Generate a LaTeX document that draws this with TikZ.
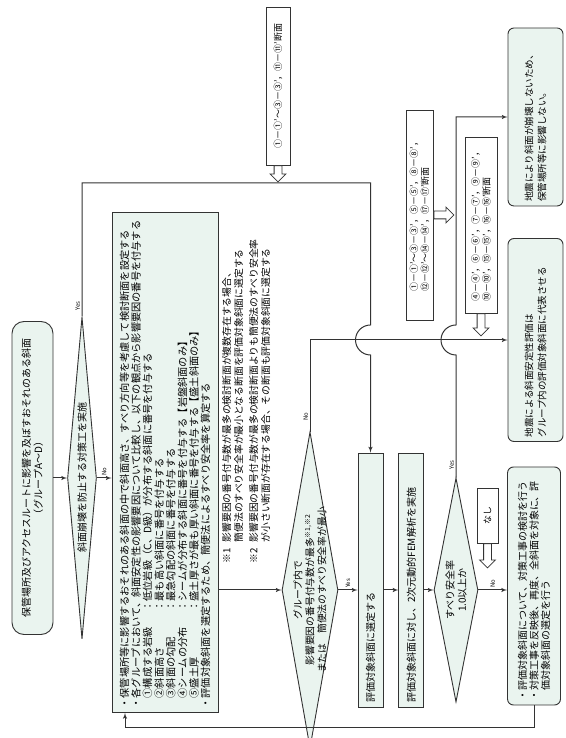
\documentclass[tikz,border=0pt]{standalone}
\usepackage{fontspec}
\setmainfont{Noto Sans CJK JP}
\usepackage{xcolor}
\usepackage{tikz}
\usetikzlibrary{shapes,arrows,positioning}

\definecolor{boxfill}{HTML}{EAF4EF}
\definecolor{linegray}{HTML}{333333}

\begin{document}
\begin{tikzpicture}[x=1pt, y=1pt, rotate=90, transform shape,
  every node/.style={font=\fontsize{10}{12}\selectfont},
  block/.style={rectangle, draw=linegray, fill=boxfill, line width=0.9pt, inner sep=4pt},
  rblock/.style={block, rounded corners=6pt},
  decision/.style={diamond, draw=linegray, fill=boxfill, line width=0.9pt, inner sep=0pt},
  memo/.style={rectangle, draw=linegray, fill=white, line width=0.9pt, inner sep=2pt, font=\fontsize{9}{11}\selectfont},
  harrow/.style={single arrow, draw=linegray, fill=white, line width=0.8pt, inner sep=3.5pt, single arrow head extend=4pt},
  tag/.style={font=\fontsize{6}{7}\selectfont, inner sep=1.5pt},
  line/.style={draw=linegray, line width=1pt, -latex'}]

  \useasboundingbox (0,0) rectangle (738,-565);

  % Nodes
  \node [rblock, rounded corners=12pt, minimum width=313pt, minimum height=41pt, align=center] (start) at (260,-32.5)
    {保管場所及びアクセスルートに影響を及ぼすおそれのある斜面\\（グループA～D）};
  \node [decision, minimum width=322pt, minimum height=29pt] (taisaku) at (260,-82) {};
  \node (taisakutext) at (taisaku) {斜面崩壊を防止する対策工を実施};

  \node [block, minimum height=106pt, text width=492pt, align=left, font=\fontsize{10.2}{11.6}\selectfont] (kentou) at (275.5,-165) {%
    ・保管場所等に影響するおそれのある斜面の中で斜面高さ、すべり方向等を考慮して検討断面を設定する\\
    ・各グループにおいて、斜面安定性の影響要因について比較し、以下の観点から影響要因の番号を付与する\\
    \hspace*{1em}\makebox[8.5em][l]{①構成する岩級}：低位岩級（C、D級）が分布する斜面に番号を付与する\\
    \hspace*{1em}\makebox[8.5em][l]{②斜面高さ}：最も高い斜面に番号を付与する\\
    \hspace*{1em}\makebox[8.5em][l]{③斜面の勾配}：最急勾配の斜面に番号を付与する\\
    \hspace*{1em}\makebox[8.5em][l]{④シームの分布}：シームが分布する斜面に番号を付与する【岩盤斜面のみ】\\
    \hspace*{1em}\makebox[8.5em][l]{⑤盛土厚}：盛土厚さが最も厚い斜面に番号を付与する【盛土斜面のみ】\\
    ・評価対象斜面を選定するため、簡便法によるすべり安全率を算定する};

  \node [anchor=north west, align=left, inner sep=0pt, font=\fontsize{9.8}{12}\selectfont] (chuki) at (174,-222) {%
    \makebox[2.2em][l]{※1}影響要因の番号付与数が最多の検討断面が複数存在する場合、\\
    \hspace*{2.2em}簡便法のすべり安全率が最小となる断面を評価対象斜面に選定する\\[3pt]
    \makebox[2.2em][l]{※2}影響要因の番号付与数が最多の検討断面よりも簡便法のすべり安全率\\
    \hspace*{2.2em}が小さい断面が存在する場合、その断面も評価対象斜面に選定する};

  \node [decision, minimum width=316pt, minimum height=56pt] (group) at (148,-310) {};
  \node [align=center, font=\fontsize{9.8}{12}\selectfont] (grouptext) at (group)
    {グループ内で\\影響要因の番号付与数が最多\textsuperscript{※1,※2}\\または　簡便法のすべり安全率が最小};

  \node [block, minimum height=25pt, text width=246pt, align=left] (sentei) at (158,-370.5) {評価対象斜面に選定する};
  \node [block, minimum height=25pt, text width=246pt, align=left, below=15pt of sentei] (fem) {評価対象斜面に対し、2次元動的FEM解析を実施};

  \node [decision, minimum width=224pt, minimum height=44pt] (anzen) at (148,-456) {};
  \node [align=center] (anzentext) at (anzen) {すべり安全率\\1.0以上か};

  \node [rblock, minimum height=55pt, text width=170pt, align=left, font=\fontsize{9.5}{13}\selectfont] (box1) at (621,-535.5)
    {地震により斜面が崩壊しないため、\\保管場所等に影響しない。};
  \node [rblock, minimum height=55pt, text width=195pt, align=left, font=\fontsize{9.5}{13}\selectfont] (box2) at (398,-535.5)
    {地震による斜面安定性評価は\\グループ内の評価対象斜面に代表させる};
  \node [rblock, minimum height=53pt, text width=230pt, align=left, font=\fontsize{10}{11.5}\selectfont] (box3) at (152,-534)
    {・評価対象斜面について、対策工事の検討を行う\\・対策工事を反映後、再度、全斜面を対象に、評\\\hspace*{1em}価対象斜面の選定を行う};

  \node [memo, minimum width=158pt, minimum height=24pt] (sec0) at (652,-278) {①－①’～③－③’，⑪－⑪’断面};
  \node [memo, minimum width=210pt, minimum height=27pt, align=left] (secA) at (523,-419.5)
    {①－①’～③－③’，⑤－⑤’，⑧－⑧’，\\⑫－⑫’～⑭－⑭’，⑰－⑰’断面};
  \node [memo, minimum width=176pt, minimum height=32pt, align=left] (secB) at (513,-481)
    {④－④’，⑥－⑥’，⑦－⑦’，⑨－⑨’，\\⑩－⑩’，⑮－⑮’，⑯－⑯’断面};
  \node [memo, minimum width=55pt, minimum height=21pt] (nashi) at (222.5,-487.5) {なし};

  \node [harrow, shape border rotate=180, anchor=tail, minimum height=16pt] (h0) at (sec0.west) {};
  \node [harrow, shape border rotate=270, anchor=tail, minimum height=20pt] (hA) at (secA.south) {};
  \node [harrow, shape border rotate=180, anchor=tail, minimum height=22pt] (hB) at (secB.west) {};
  \node [harrow, shape border rotate=180, anchor=tail, minimum height=24pt] (hN) at (nashi.west) {};

  \coordinate (loopturn) at (555,-82);
  \coordinate (hopAr) at (413,-370.5);
  \coordinate (hopBl) at (383,-456);
  \coordinate (back) at (10,-125);

  % Edges
  \path [line] (start) -- (taisaku);
  \path [line] (taisaku.south) -- node[tag, right] {No} (taisaku.south |- kentou.north);
  \path [line] (taisaku.east) -- node[tag, above, pos=0.08] {Yes} (loopturn) -- (loopturn |- hopAr) -- (hopAr)
    arc[start angle=0, end angle=180, radius=15pt] -- (sentei.east);
  \path [line] (kentou.south -| group) -- (group.north);
  \path [line] (group.east) -- node[tag, above, pos=0.16] {No} (group.east -| box2.north) -- (box2.north);
  \path [line] (group.south) -- node[tag, right] {Yes} (group.south |- sentei.north);
  \path [line] (sentei.south -| group) -- (fem.north -| group);
  \path [line] (fem.south -| anzen) -- (anzen.north);
  \path [line] (anzen.south) -- node[tag, right] {No} (anzen.south |- box3.north);
  \path [line] (anzen.east) -- node[tag, above, pos=0.1] {Yes} (hopBl)
    arc[start angle=180, end angle=0, radius=15pt] -- (box1.north |- anzen.east) -- (box1.north);
  \path [line] (box3.west) -| (back) -- (back -| kentou.west);

\end{tikzpicture}
\end{document}
